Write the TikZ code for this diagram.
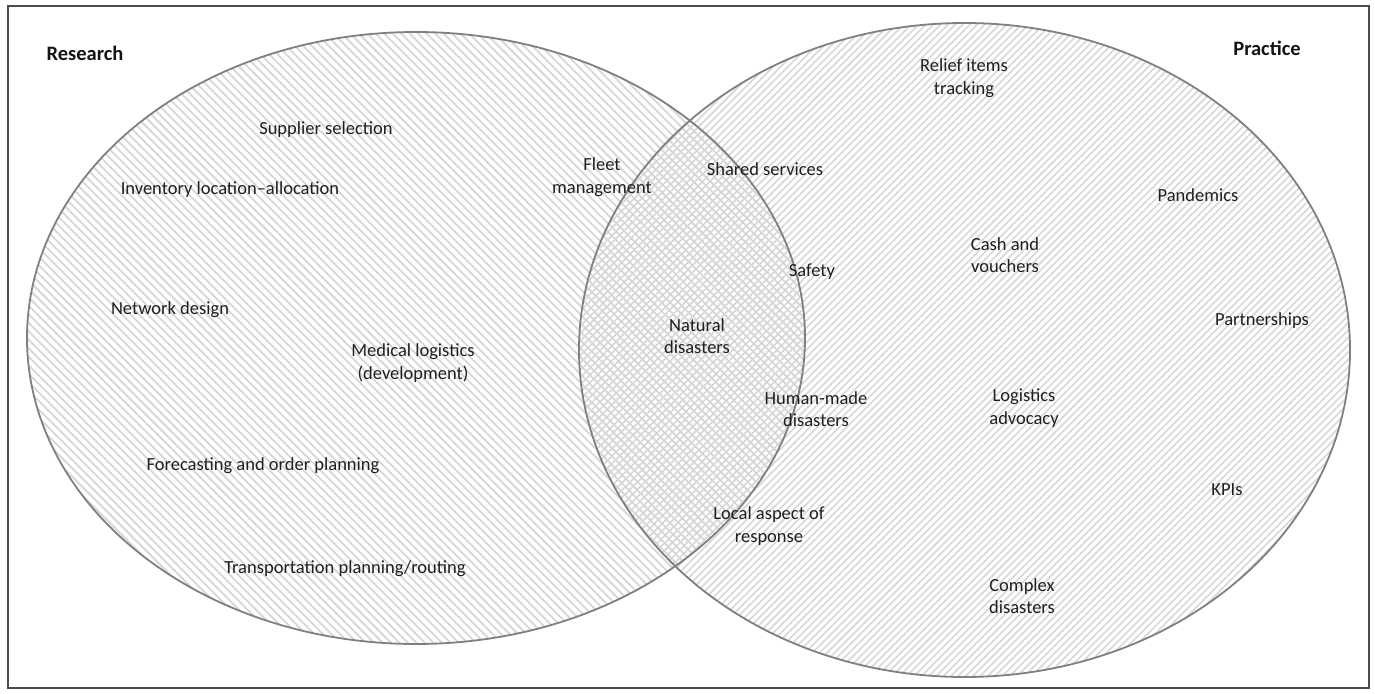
\documentclass[tikz,border=0pt]{standalone}
\usepackage{fontspec}
\setmainfont{Carlito}
\usetikzlibrary{patterns.meta}
\begin{document}
\begin{tikzpicture}[x=1pt,y=-1pt,
  lbl/.style={font=\fontsize{18.5}{22.5}\selectfont, align=center, text=black!88, inner sep=0pt},
  head/.style={font=\fontsize{20.5}{24}\selectfont\bfseries, text=black!92, inner sep=0pt},
  setline/.style={draw=black!50, line width=1.8pt},
  hatchL/.style={pattern={Lines[angle=-45,distance=6pt,line width=1.8pt]}, pattern color=black!16},
  hatchR/.style={pattern={Lines[angle=45,distance=5.2pt,line width=1.6pt]}, pattern color=black!16},
]
\useasboundingbox (0,0) rectangle (1375,693);
\draw[black!70, line width=1.3pt] (8,6) rectangle (1369,688);
% set fills
\path[hatchL] (416,338) ellipse [x radius=389, y radius=306];
\path[hatchR] (964.5,350) ellipse [x radius=385.5, y radius=327];
% set outlines
\draw[setline] (416,338) ellipse [x radius=389, y radius=306];
\draw[setline] (964.5,350) ellipse [x radius=385.5, y radius=327];
% headings
\node[head] (research) at (85,53) {Research};
\node[head] (practice) at (1267,48) {Practice};
% research only
\node[lbl] (supplier) at (326,130) {Supplier selection};
\node[lbl] (inventory) at (230,190) {Inventory location–allocation};
\node[lbl] (network) at (170,310) {Network design};
\node[lbl] (medical) at (413,363) {Medical logistics\\(development)};
\node[lbl] (forecast) at (263,466) {Forecasting and order planning};
\node[lbl] (transport) at (345,569) {Transportation planning/routing};
% overlap / boundary
\node[lbl] (fleet) at (602,177) {Fleet\\management};
\node[lbl] (shared) at (765,169) {Shared services};
\node[lbl] (safety) at (812,272) {Safety};
\node[lbl] (natural) at (697,336) {Natural\\disasters};
\node[lbl] (human) at (816,409) {Human-made\\disasters};
\node[lbl] (local) at (769,526) {Local aspect of\\response};
% practice only
\node[lbl] (relief) at (964,78) {Relief items\\tracking};
\node[lbl] (pandemics) at (1198,195) {Pandemics};
\node[lbl] (cash) at (1005,255) {Cash and\\vouchers};
\node[lbl] (partner) at (1262,321) {Partnerships};
\node[lbl] (advocacy) at (1024,408) {Logistics\\advocacy};
\node[lbl] (kpis) at (1227,490) {KPIs};
\node[lbl] (complex) at (1022,596) {Complex\\disasters};
\end{tikzpicture}
\end{document}
